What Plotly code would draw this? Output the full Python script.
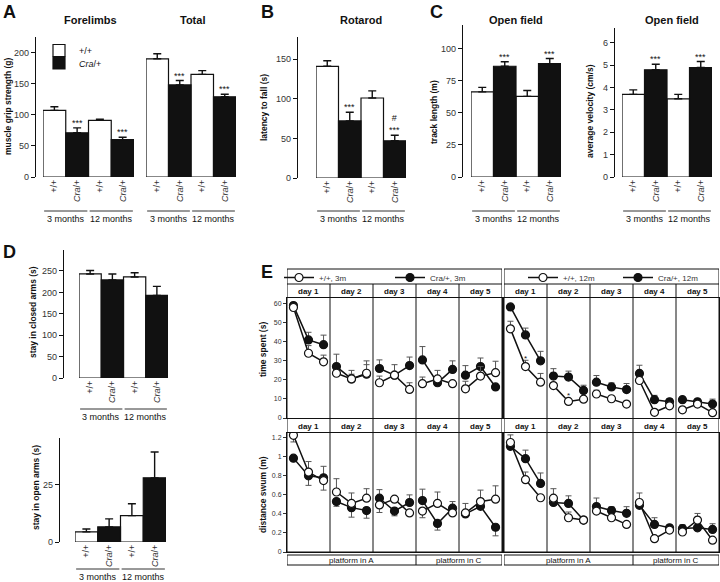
import plotly.graph_objects as go

W, H = 720, 582
FONT = "Arial, 'Liberation Sans', Helvetica, sans-serif"
INK = "#111111"
GREY = "#333333"

# ---------------- bar panels (A-D) ----------------
genotypes = ["+/+", "<i>Cra</i>/+", "+/+", "<i>Cra</i>/+"]
ages = ["3 months", "12 months"]

fore_mean = [107, 71, 91, 60]
fore_err = [6, 8, 2, 4]
fore_sig = ["", "***", "", "***"]

total_mean = [190, 148, 165, 129]
total_err = [8, 7, 6, 4]
total_sig = ["", "***", "", "***"]

rotarod_mean = [141, 72, 101, 47]
rotarod_err = [7, 11, 9, 7]
rotarod_sig = ["", "***", "", "#<br>***"]

track_mean = [66.5, 86.5, 63, 88.5]
track_err = [3.5, 3.5, 4.5, 4]
track_sig = ["", "***", "", "***"]

velocity_mean = [3.7, 4.8, 3.5, 4.9]
velocity_err = [0.2, 0.25, 0.2, 0.27]
velocity_sig = ["", "***", "", "***"]

closed_mean = [243, 229, 236, 193]
closed_err = [8, 14, 10, 21]
closed_sig = ["", "", "", ""]

open_mean = [4.4, 6.6, 11.5, 28]
open_err = [1.3, 3.5, 5.2, 11.3]
open_sig = ["", "", "", ""]

# ---------------- water maze (E) ----------------
days = ["day 1", "day 2", "day 3", "day 4", "day 5"]
platforms = [("platform in A", 0, 3), ("platform in C", 3, 5)]

# 3 trials per day; signed error: + drawn up, - drawn down
time_wt_3m = [58, 34, 29.5, 23.5, 20.5, 23.5, 18.5, 22.5, 15, 18, 20.5, 18, 15.3, 22, 23.8]
time_wt_3m_err = [0, 4, 3.5, 0, 4.5, 6.5, 3.5, 5.5, 3.5, 3.5, 4.5, 0, 4, 5, 6]
time_cra_3m = [59, 41, 38.5, 27, 20.5, 23, 26, 22.5, 27.5, 30.5, 18.5, 25.5, 22.5, 27, 16.3]
time_cra_3m_err = [0, 4, 5, 6.5, 2.5, 5, 4.5, 0, 4.5, 7, 3, 4.5, 5, 4.5, 0]

time_wt_12m = [46.8, 27, 18.8, 17, 8.7, 9.9, 12.6, 10.1, 7.3, 19.7, 3, 6.4, 4.3, 7.3, 2.8]
time_wt_12m_err = [4, 3.3, 4.6, 0, 0, 0, 2, 0, 0, 0, 0, 0, 0, 0, 0]
time_cra_12m = [58.3, 43.6, 30, 22, 21.5, 14.5, 18.8, 16.3, 14.9, 23.4, 9.6, 8.5, 9.6, 8.5, 7.3]
time_cra_12m_err = [0, 3.6, 5, 3.9, 3.1, 2.7, 3.5, 2.1, 3.2, 4.3, 2.3, 1.5, 1.4, 1.2, 2.6]

dist_wt_3m = [1.226, 0.84, 0.75, 0.63, 0.51, 0.565, 0.495, 0.555, 0.41, 0.43, 0.51, 0.41, 0.41, 0.53, 0.555]
dist_wt_3m_err = [-0.07, 0.11, -0.10, 0.14, 0.11, 0.10, -0.08, 0, 0, -0.07, 0.12, 0, 0.10, 0.12, 0.14]
dist_cra_3m = [0.986, 0.80, 0.78, 0.53, 0.466, 0.435, 0.565, 0.43, 0.52, 0.54, 0.30, 0.46, 0.40, 0.48, 0.26]
dist_cra_3m_err = [0, -0.10, 0.12, -0.05, -0.10, -0.08, 0.09, -0.05, 0.08, 0.12, -0.07, 0.07, 0, 0.07, -0.09]

dist_wt_12m = [1.15, 0.76, 0.57, 0.565, 0.36, 0.335, 0.43, 0.36, 0.29, 0.52, 0.14, 0.23, 0.21, 0.335, 0.124]
dist_wt_12m_err = [0.08, 0.08, 0, 0.10, 0.06, 0, 0, 0, 0, 0.10, 0, 0, 0, 0.07, 0]
dist_cra_12m = [1.11, 0.98, 0.72, 0.52, 0.51, 0.335, 0.477, 0.435, 0.406, 0.49, 0.29, 0.254, 0.247, 0.254, 0.237]
dist_cra_12m_err = [0, 0.09, 0.11, 0, 0.08, 0, 0.09, 0.04, 0.07, 0, 0.07, 0, 0.04, 0, 0.06]

# (day index, trial index, value) of '*' marks in the 12m time-spent plot
time_12m_marks = [(0, 1, 31), (1, 1, 12)]


def fx(px):
    return px / W


def fy(py):
    return 1 - py / H


def sfx(n):
    return "" if n == 1 else str(n)


fig = go.Figure()
layout = {}
shapes = []
annotations = []


def text(t, x, y, size=9, bold=False, angle=0, xref="paper", yref="paper",
         xanchor="center", yanchor="middle", **kw):
    annotations.append(dict(
        text=f"<b>{t}</b>" if bold else t, x=x, y=y, xref=xref, yref=yref,
        xanchor=xanchor, yanchor=yanchor, showarrow=False, textangle=angle,
        font=dict(family=FONT, size=size, color=INK), **kw))


# bar panel layout: bars x-range (px), y-axis x (px), plot top/bottom (px), y max, dtick
bar_panels = [
    dict(m=fore_mean, e=fore_err, s=fore_sig, xd=(43, 134), ax=35, yd=(37, 177), ymax=225, dt=50, yshow=True, gl=211),
    dict(m=total_mean, e=total_err, s=total_sig, xd=(146, 236), ax=146, yd=(37, 177), ymax=225, dt=50, yshow=False, gl=211),
    dict(m=rotarod_mean, e=rotarod_err, s=rotarod_sig, xd=(316, 406), ax=297, yd=(37, 178), ymax=178, dt=50, yshow=True, gl=211),
    dict(m=track_mean, e=track_err, s=track_sig, xd=(471, 561), ax=462, yd=(25, 177), ymax=118.7, dt=25, yshow=True, gl=211),
    dict(m=velocity_mean, e=velocity_err, s=velocity_sig, xd=(622, 712), ax=614, yd=(28, 177), ymax=6.67, dt=1, yshow=True, gl=211),
    dict(m=closed_mean, e=closed_err, s=closed_sig, xd=(79, 168), ax=63, yd=(250, 378), ymax=299, dt=50, yshow=True, gl=409),
    dict(m=open_mean, e=open_err, s=open_sig, xd=(75, 166), ax=59, yd=(438, 542), ymax=45.4, dt=25, yshow=True, gl=569),
]

xs = list(range(len(genotypes)))
for n, p in enumerate(bar_panels, start=1):
    xa, ya = "x" + sfx(n), "y" + sfx(n)
    for colour, idx, name, leg in (("white", [0, 2], "+/+", "legend"),
                                   (INK, [1, 3], "<i>Cra</i>/+", "legend4")):
        fig.add_trace(go.Bar(
            x=[xs[j] for j in idx], y=[p["m"][j] for j in idx], width=1,
            error_y=dict(type="data", symmetric=False, array=[p["e"][j] for j in idx],
                         arrayminus=[0] * len(idx), color=INK, thickness=1.4, width=4),
            marker=dict(color=colour, line=dict(color=INK, width=1.2)),
            name=name, showlegend=(n == 1), legend=leg, xaxis=xa, yaxis=ya,
        ))
    layout["xaxis" + sfx(n)] = dict(
        domain=[fx(p["xd"][0]), fx(p["xd"][1])], range=[-0.5, 3.5], anchor=ya,
        tickvals=xs, ticktext=genotypes, tickangle=-90, ticks="", showline=False,
        showgrid=False, zeroline=False, tickfont=dict(family=FONT, size=9, color=GREY))
    layout["yaxis" + sfx(n)] = dict(
        domain=[fy(p["yd"][1]), fy(p["yd"][0])], range=[0, p["ymax"]], anchor="free",
        position=fx(p["ax"]), showline=p["yshow"], linecolor=INK, linewidth=1.2,
        ticks="outside" if p["yshow"] else "", ticklen=4, tickwidth=1.2, tickcolor=INK,
        showticklabels=p["yshow"], tick0=0, dtick=p["dt"], showgrid=False, zeroline=False,
        tickfont=dict(family=FONT, size=9, color=GREY))
    for k, (m, e, s) in enumerate(zip(p["m"], p["e"], p["s"])):
        if s:
            text(s, k, m + e, size=9, xref=xa, yref=ya, yanchor="bottom", yshift=-2)
    for g, age in enumerate(ages):
        shapes.append(dict(type="line", xref=xa, yref="paper", x0=2 * g - 0.45, x1=2 * g + 1.45,
                           y0=fy(p["gl"]), y1=fy(p["gl"]), line=dict(color=GREY, width=1)))
        text(age, 2 * g + 0.5, fy(p["gl"] + 8), size=9, xref=xa)

# ---------------- E panels ----------------
trial_frac = [0.15, 0.5, 0.85]
xpos = []
for d in range(len(days)):
    xpos += [d + f for f in trial_frac] + [None]


def gapped(vals):
    out = []
    for d in range(len(days)):
        out += list(vals[3 * d:3 * d + 3]) + [None]
    return out


def gapped_err(errs, sign):
    out = []
    for d in range(len(days)):
        out += [max(sign * e, 0) for e in errs[3 * d:3 * d + 3]] + [0]
    return out


e_panels = [
    dict(n=8, xd=(287, 502), yd=(298, 418), ymax=63, dt=10, age="3m", leg="legend2",
         wt=time_wt_3m, wte=time_wt_3m_err, cra=time_cra_3m, crae=time_cra_3m_err, labels=True),
    dict(n=9, xd=(504, 719), yd=(298, 418), ymax=63, dt=10, age="12m", leg="legend3",
         wt=time_wt_12m, wte=time_wt_12m_err, cra=time_cra_12m, crae=time_cra_12m_err, labels=False),
    dict(n=10, xd=(287, 502), yd=(433, 552), ymax=1.25, dt=0.2, age="3m", leg=None,
         wt=dist_wt_3m, wte=dist_wt_3m_err, cra=dist_cra_3m, crae=dist_cra_3m_err, labels=True),
    dict(n=11, xd=(504, 719), yd=(433, 552), ymax=1.25, dt=0.2, age="12m", leg=None,
         wt=dist_wt_12m, wte=dist_wt_12m_err, cra=dist_cra_12m, crae=dist_cra_12m_err, labels=False),
]

for p in e_panels:
    n = p["n"]
    xa, ya = "x" + sfx(n), "y" + sfx(n)
    for vals, errs, name, fill, rank in ((p["cra"], p["crae"], f"Cra/+, {p['age']}", INK, 2),
                                         (p["wt"], p["wte"], f"+/+, {p['age']}", "white", 1)):
        fig.add_trace(go.Scatter(
            x=xpos, y=gapped(vals), mode="lines+markers", connectgaps=False,
            line=dict(color=INK, width=1.5),
            marker=dict(size=8, color=fill, line=dict(color=INK, width=1.2)),
            error_y=dict(type="data", symmetric=False, array=gapped_err(errs, 1),
                         arrayminus=gapped_err(errs, -1), color="#555555", thickness=1, width=3),
            name=name, legend=p["leg"] or "legend2", showlegend=p["leg"] is not None,
            legendrank=rank, xaxis=xa, yaxis=ya,
        ))
    layout["xaxis" + sfx(n)] = dict(
        domain=[fx(p["xd"][0]), fx(p["xd"][1])], range=[0, len(days)], anchor=ya,
        showticklabels=False, ticks="", showline=True, mirror=True, linecolor=INK,
        linewidth=1, showgrid=False, zeroline=False)
    layout["yaxis" + sfx(n)] = dict(
        domain=[fy(p["yd"][1]), fy(p["yd"][0])], range=[0, p["ymax"]], anchor=xa,
        showline=True, mirror=True, linecolor=INK, linewidth=1, showgrid=False, zeroline=False,
        ticks="outside" if p["labels"] else "", ticklen=3, tickwidth=1, tickcolor=GREY,
        showticklabels=p["labels"], tick0=0, dtick=p["dt"],
        tickfont=dict(family=FONT, size=7, color=GREY))

for d, t, v in time_12m_marks:
    text("*", d + trial_frac[t], v, size=8, xref="x9", yref="y9")

# frames, day separators and header text for the two E blocks
for xa in ("x8", "x9"):
    line = dict(color=INK, width=1)
    shapes.append(dict(type="rect", xref=xa, yref="paper", x0=0, x1=len(days),
                       y0=fy(552), y1=fy(269), line=line))
    shapes.append(dict(type="line", xref=xa, yref="paper", x0=0, x1=len(days),
                       y0=fy(284), y1=fy(284), line=line))
    for d in range(1, len(days)):
        shapes.append(dict(type="line", xref=xa, yref="paper", x0=d, x1=d,
                           y0=fy(552), y1=fy(284), line=line))
    shapes.append(dict(type="rect", xref=xa, yref="paper", x0=0, x1=len(days),
                       y0=fy(565), y1=fy(555), line=line))
    for label, a, b in platforms:
        if a > 0:
            shapes.append(dict(type="line", xref=xa, yref="paper", x0=a, x1=a,
                               y0=fy(565), y1=fy(555), line=line))
        text(label, (a + b) / 2, fy(560), size=8, xref=xa)
    for d, day in enumerate(days):
        text(day, d + 0.5, fy(291), size=8, bold=True, xref=xa)
        text(day, d + 0.5, fy(426), size=8, bold=True, xref=xa)

# titles, panel letters, axis labels
for t, x, y in (("Forelimbs", 90, 20), ("Total", 192, 20), ("Rotarod", 361, 20),
                ("Open field", 516, 20), ("Open field", 672, 20)):
    text(t, fx(x), fy(y), size=11, bold=True)
for t, x, y in (("A", 9, 12), ("B", 267, 12), ("C", 437, 12), ("D", 9, 252), ("E", 267, 272)):
    text(t, fx(x), fy(y), size=18, bold=True)
for t, x, y in (("muscle grip strength (g)", 8, 107), ("latency to fall (s)", 264, 108),
                ("track length (m)", 434, 112), ("average velocity (cm/s)", 590, 111),
                ("stay in closed arms (s)", 33, 312), ("stay in open arms (s)", 36, 488),
                ("time spent (s)", 263, 350), ("distance swum (m)", 263, 495)):
    text(t, fx(x), fy(y), size=8.5, bold=True, angle=-90)

bar_legend = dict(xanchor="left", yanchor="top", bgcolor="rgba(0,0,0,0)",
                  font=dict(family=FONT, size=9, color=INK), itemwidth=30, tracegroupgap=0)
line_legend = dict(orientation="h", bgcolor="rgba(0,0,0,0)", xanchor="left", yanchor="top",
                   font=dict(family=FONT, size=8, color=GREY), itemwidth=30, tracegroupgap=0)

fig.update_layout(
    width=W, height=H, margin=dict(l=0, r=0, t=0, b=0, autoexpand=False),
    paper_bgcolor="white", plot_bgcolor="white", barmode="overlay",
    font=dict(family=FONT, color=INK),
    legend=dict(x=fx(39), y=fy(36), **bar_legend),
    legend4=dict(x=fx(39), y=fy(48.5), **bar_legend),
    legend2=dict(x=fx(279), y=fy(263), entrywidth=66, **line_legend),
    legend3=dict(x=fx(523), y=fy(263), entrywidth=50, **line_legend),
    shapes=shapes, annotations=annotations, **layout,
)

fig.write_html("out.html", config={"displayModeBar": False},
               post_script="document.body.style.margin = '0px';")
